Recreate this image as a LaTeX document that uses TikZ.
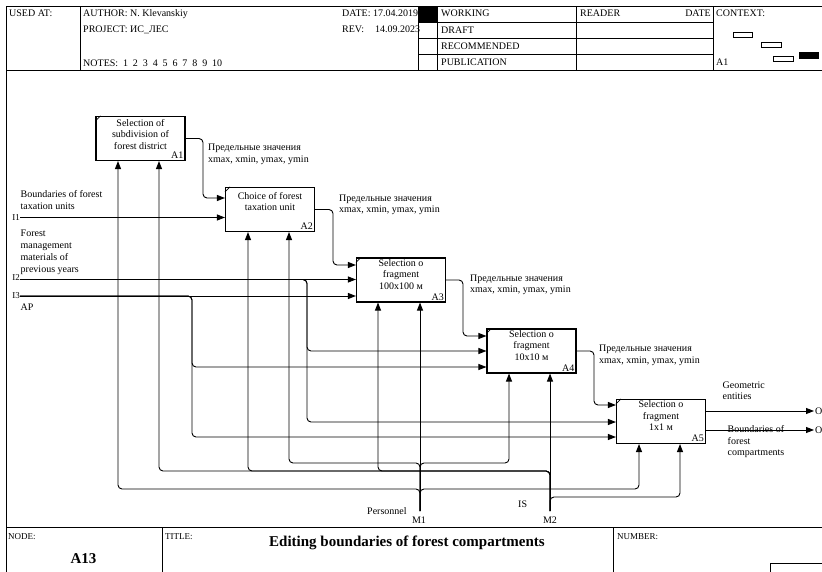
\documentclass[tikz,border=0pt]{standalone}
\usepackage{fontspec}
\setmainfont{Liberation Serif}
\usetikzlibrary{arrows.meta}
\newcommand{\mysp}{\hspace{4.9pt}}
\begin{document}
\begin{tikzpicture}[x=1pt,y=-1pt,
  frame/.style={line width=1pt, draw=black},
  fbox/.style={draw, line width=1.1pt, minimum width=89pt, minimum height=44pt, inner sep=0pt, fill=white},
  btext/.style={anchor=north, align=center, inner sep=0pt, font=\fontsize{10}{11.5}\selectfont},
  bnum/.style={anchor=south east, inner sep=0pt, font=\fontsize{10}{11}\selectfont},
  arr/.style={draw, line width=0.9pt, rounded corners=4pt, -{Triangle[length=8pt,width=6pt]}},
  lbl/.style={anchor=north west, align=left, inner sep=0pt, font=\fontsize{10}{11.5}\selectfont},
  llbl/.style={anchor=north west, align=left, inner sep=0pt, font=\fontsize{10}{12}\selectfont},
  hd/.style={anchor=base west, inner sep=0pt, font=\fontsize{10}{12}\selectfont},
  ft/.style={anchor=base west, inner sep=0pt, font=\fontsize{9}{10}\selectfont},
  tick/.style={line width=0.6pt},
]
\useasboundingbox (0,0) rectangle (822,572);
\fill[white] (0,0) rectangle (822,572);
\clip (0,0) rectangle (822,572);

% ---------- header ----------
\draw[frame] (6,7) -- (830,7);
\draw[frame] (6,71) -- (830,71);
\draw[frame] (6,7) -- (6,580);
\draw[frame] (80,7) -- (80,71);
\draw[frame] (418,7) -- (418,71);
\draw[frame] (437,7) -- (437,71);
\draw[frame] (576,7) -- (576,71);
\draw[frame] (713,7) -- (713,71);
\draw[frame] (418,23) -- (713,23);
\draw[frame] (418,39) -- (713,39);
\draw[frame] (418,55) -- (713,55);
\fill (418,7) rectangle (437,23);

\node[hd] (usedat) at (9,16.5) {USED AT:};
\node[hd] (author) at (83,16.5) {AUTHOR: N. Klevanskiy};
\node[hd] (project) at (83,33) {PROJECT: ИС\_ЛЕС};
\node[hd] (notes) at (83,66.5) {NOTES:\mysp 1\mysp 2\mysp 3\mysp 4\mysp 5\mysp 6\mysp 7\mysp 8\mysp 9\mysp 10};
\node[hd] (date) at (342,16.5) {DATE: 17.04.2019};
\node[hd] (rev) at (342,33) {REV:\hspace{11pt}14.09.2023};
\node[hd] (working) at (441,16.5) {WORKING};
\node[hd] (draft) at (441,34) {DRAFT};
\node[hd] (recom) at (441,50) {RECOMMENDED};
\node[hd] (publ) at (441,66) {PUBLICATION};
\node[hd] (reader) at (580,16.5) {READER};
\node[hd, anchor=base east] (rdate) at (711,16.5) {DATE};
\node[hd] (context) at (716,16.5) {CONTEXT:};
\node[hd] (ctxa) at (716,66) {A1};
\draw[line width=0.9pt] (733,32) rectangle (752,37);
\draw[line width=0.9pt] (761,42.5) rectangle (781,47.5);
\draw[line width=0.9pt] (773,56) rectangle (793,61);
\fill (799,52) rectangle (819,59);

% ---------- footer ----------
\draw[frame] (6,527) -- (830,527);
\draw[frame] (162,527) -- (162,580);
\draw[frame] (613,527) -- (613,580);
\draw[frame] (770,563) rectangle (830,590);
\node[ft] (nodel) at (8,539) {NODE:};
\node[ft] (titlel) at (165,539) {TITLE:};
\node[ft] (numl) at (617,539) {NUMBER:};
\node[anchor=base, inner sep=0pt, font=\fontsize{15}{17}\selectfont\bfseries] (title) at (407,546) {Editing boundaries of forest compartments};
\node[anchor=base, inner sep=0pt, font=\fontsize{15}{17}\selectfont\bfseries] (nodeid) at (83.5,563) {A13};

% ---------- boxes ----------
\node[fbox] (A1) at (140.5,138.5) {};
\node[fbox] (A2) at (270,209.5) {};
\node[fbox] (A3) at (401,280) {};
\node[fbox] (A4) at (531.5,351) {};
\node[fbox] (A5) at (661,421.5) {};

\node[btext] (A1t) at ([yshift=-3pt]A1.north) {Selection of\\subdivision of\\forest district};
\node[btext] (A2t) at ([yshift=-5pt]A2.north) {Choice of forest\\taxation unit};
\node[btext] (A3t) at ([yshift=-1.5pt]A3.north) {Selection o\\fragment\\100x100 м};
\node[btext] (A4t) at ([yshift=-1.5pt]A4.north) {Selection o\\fragment\\10x10 м};
\node[btext] (A5t) at ([yshift=-1.5pt]A5.north) {Selection o\\fragment\\1x1 м};

\foreach \b in {A1,A2,A3,A4,A5}{
  \node[bnum] (\b n) at ([xshift=-2pt,yshift=2pt]\b.south east) {\b};
  \draw[tick] ([yshift=-5pt]\b.north west) -- ([xshift=5pt]\b.north west);
}

% ---------- coordinates ----------
\coordinate (I1) at (20,217.5);
\coordinate (I2) at (20,279.5);
\coordinate (I3) at (20,296);
\coordinate (M1) at (420,511);
\coordinate (M2) at (550,511);
\coordinate (O1) at (814,411);
\coordinate (O2) at (814,430);

% ---------- box to box ----------
\draw[arr] (A1.east) -| (203,198) -- (A2.west |- 0,198);
\draw[arr] (A2.east) -| (333,265) -- (A3.west |- 0,265);
\draw[arr] (A3.east) -| (463,336) -- (A4.west |- 0,336);
\draw[arr] (A4.east) -| (594,405) -- (A5.west |- 0,405);

% ---------- inputs ----------
\draw[arr] (I1) -- (I1 -| A2.west);
\draw[arr] (I2) -- (I2 -| A3.west);
\draw[arr] (I2) -- (307,279.5) -- (307,351) -- (A4.west |- 0,351);
\draw[arr] (I2) -- (307,279.5) -- (307,422) -- (A5.west |- 0,422);
\draw[arr] (I3) -- (I3 -| A3.west);
\draw[arr] (I3) -- (192,296) -- (192,367) -- (A4.west |- 0,367);
\draw[arr] (I3) -- (192,296) -- (192,437) -- (A5.west |- 0,437);

% ---------- outputs ----------
\draw[arr] (A5.east |- O1) -- (O1);
\draw[arr] (A5.east |- O2) -- (O2);

% ---------- mechanisms ----------
\draw[arr] (M1) -- (A3.south -| M1);
\draw[arr] (M1) -- (420,463) -- (289,463) -- (A2.south -| 289,0);
\draw[arr] (M1) -- (420,463) -- (509,463) -- (A4.south -| 509,0);
\draw[arr] (M1) -- (420,489) -- (118,489) -- (A1.south -| 118,0);
\draw[arr] (M1) -- (420,489) -- (639,489) -- (A5.south -| 639,0);
\draw[arr] (M2) -- (A4.south -| M2);
\draw[arr] (M2) -- (550,471) -- (378,471) -- (A3.south -| 378,0);
\draw[arr] (M2) -- (550,471) -- (248,471) -- (A2.south -| 248,0);
\draw[arr] (M2) -- (550,471) -- (159,471) -- (A1.south -| 159,0);
\draw[arr] (M2) -- (550,497) -- (680,497) -- (A5.south -| 680,0);

% ---------- labels ----------
\node[lbl] (L1) at (208,144) {Предельные значения\\xmax, xmin, ymax, ymin};
\node[lbl] (L2) at (339,194.5) {Предельные значения\\xmax, xmin, ymax, ymin};
\node[lbl] (L3) at (470,274.5) {Предельные значения\\xmax, xmin, ymax, ymin};
\node[lbl] (L4) at (599,345) {Предельные значения\\xmax, xmin, ymax, ymin};
\node[lbl] (LO1) at (722.5,381.5) {Geometric\\entities};
\node[lbl] (LO2) at (727.5,425.5) {Boundaries of\\forest\\compartments};
\node[llbl] (LI1) at (20.5,190.5) {Boundaries of forest\\taxation units};
\node[llbl] (LI2) at (20.5,230) {Forest\\management\\materials of\\previous years};
\node[llbl] (LI3) at (20.5,304) {AP};
\node[ft, anchor=base east] (tI1) at (20,221) {I1};
\node[ft, anchor=base east] (tI2) at (20,280.5) {I2};
\node[ft, anchor=base east] (tI3) at (20,298.5) {I3};
\node[hd] (tO1) at (815,414.5) {O1};
\node[hd] (tO2) at (815,433.5) {O2};
\node[hd] (pers) at (367,514) {Personnel};
\node[hd] (isl) at (518,507) {IS};
\node[hd, anchor=base] (tM1) at (419,523) {M1};
\node[hd, anchor=base] (tM2) at (550,523) {M2};
\end{tikzpicture}
\end{document}
